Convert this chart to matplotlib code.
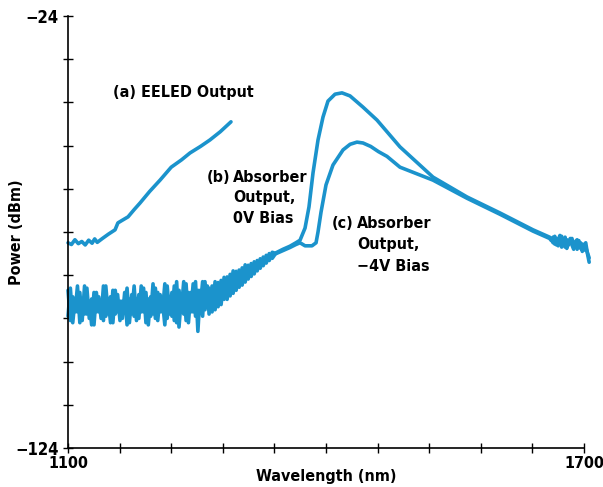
import numpy as np
import matplotlib
matplotlib.use("Agg")
import matplotlib.pyplot as plt
from matplotlib import font_manager as fm

# look for a condensed bold face, otherwise Roboto
cond = [f for f in fm.fontManager.ttflist
        if ('Condensed' in f.name or 'Narrow' in f.name
            or f.stretch in ('condensed', 'semi-condensed', 'extra-condensed'))]
cond_bold = [f for f in cond if f.weight in ('bold', 700, 'semibold', 600)]
if cond_bold:
    FP = fm.FontProperties(fname=cond_bold[0].fname)
    FS = 11.5
else:
    FP = fm.FontProperties(family=['Roboto', 'DejaVu Sans'], weight='bold')
    FS = 10.8

BLUE = '#1b93cc'

# (a) EELED output
eeled_wl = [1100, 1104, 1108, 1112, 1116, 1120, 1124, 1128, 1131, 1134, 1140, 1147, 1154.7,
            1158, 1163, 1169.8, 1177, 1183.7, 1195, 1207, 1220, 1232, 1241.9, 1254, 1265, 1277, 1289.5]
eeled_p = [-76.5, -76.9, -75.8, -76.7, -76.2, -77, -75.9, -76.6, -75.6, -76.4, -75.5, -74.5, -73.5,
           -71.9, -71.3, -70.5, -68.8, -67.3, -64.6, -62, -59, -57.3, -55.7, -54.2, -52.7, -50.8, -48.5]

# noisy floor of absorber outputs, 1100-1262 nm
floor_wl = np.linspace(1100, 1262, 60)
b_floor = [-87.5, -94.5, -89, -92.5, -86.5, -95, -90, -93, -87, -94,
           -89.5, -95.5, -88, -92.5, -90, -94.5, -86.5, -93, -89, -95,
           -87.5, -92.5, -90, -94, -88, -95.5, -89.5, -93, -86.5, -94.5,
           -88.5, -92.5, -87, -95, -89.5, -93.5, -86, -94, -88, -92.5,
           -90, -95.5, -86.5, -93, -88, -94.5, -85.5, -96, -89, -93,
           -86, -95, -88, -92.5, -85.5, -97, -87.5, -93.5, -85.5, -91.5]
c_floor = [-93.5, -87, -95, -89.5, -92.5, -88, -94.5, -86.5, -93, -90,
           -95.5, -88, -92.5, -89, -94, -86.5, -93.5, -89.5, -95, -87.5,
           -93, -88.5, -94.5, -90, -92.5, -87, -95, -88.5, -93.5, -89.5,
           -94, -86.5, -92.5, -88, -95.5, -89, -93, -87, -94.5, -88.5,
           -92.5, -86, -94, -89, -93.5, -86.5, -95, -87.5, -92, -85.5,
           -94.5, -88, -92.5, -86, -93.5, -87.5, -91.5, -85.5, -92, -86.5]

# rising, still noisy, 1264-1338 nm
rise_wl = [1264, 1267.5, 1271, 1274.5, 1278, 1281.5, 1285, 1288.5, 1292, 1295.5, 1299,
           1302.5, 1306, 1309.5, 1313, 1316.5, 1320, 1323.5, 1327, 1330.5, 1334, 1337.5,
           1342, 1350, 1358, 1365]
b_rise = [-87, -92.5, -85.5, -91.3, -85.2, -89.6, -84.4, -88.8, -83, -87.5, -82.8,
          -86.3, -81.6, -84.9, -81.3, -83.7, -80.6, -82.4, -79.8, -81.2, -79, -80.1,
          -78.8, -78, -77.3, -76.5]
c_rise = [-93, -86.5, -92, -85.7, -90.8, -84.5, -89.6, -83.8, -88.2, -83.1, -86.8,
          -82.3, -85.6, -81.7, -84.3, -80.9, -83, -80.2, -81.8, -79.4, -80.6, -78.7,
          -79, -78.3, -77.6, -76.9]

# (b) 0V bias peak
b_peak_wl = [1369.8, 1375.6, 1380.2, 1384.9, 1390.7, 1396.5, 1402.3, 1410.5, 1418.6, 1427.9,
             1443, 1459.3, 1486, 1524.4, 1564, 1602.3, 1640.7, 1660]
b_peak_p = [-75.9, -73.1, -68.2, -60.3, -52.7, -47.4, -43.7, -42.1, -41.8, -42.5,
            -45.1, -48.1, -54.3, -61.3, -65.9, -69.6, -73.5, -75.2]

# (c) -4V bias peak
c_peak_wl = [1369.8, 1375.6, 1383.7, 1388.4, 1390.7, 1394.2, 1400, 1408.1, 1419.8, 1428,
             1436, 1443, 1452, 1461, 1470.9, 1486, 1524.4, 1564, 1602.3, 1640.7, 1660]
c_peak_p = [-76.5, -77.2, -77.2, -76.5, -74, -69.4, -63.1, -58.5, -55, -53.7,
            -53.2, -53.4, -54.2, -55.4, -56.5, -59, -62, -66.2, -69.9, -73.8, -75.5]

# noisy tail 1662-1706 nm
tail_wl = np.linspace(1662, 1706, 23)
b_tail = [-75.5, -76.5, -75, -77, -75.8, -74.8, -77.5, -76, -75.2, -77.8, -76.3, -75.5,
          -77, -78, -76.2, -75.8, -77.5, -76.5, -78.5, -77, -76.5, -79, -81]
c_tail = [-76, -75.2, -76.8, -75.5, -77.2, -76, -75, -76.8, -77.5, -75.8, -77, -76.2,
          -75.5, -77.5, -76.8, -78, -76, -77.8, -76.8, -78.2, -77.5, -78.8, -80]

fig = plt.figure(figsize=(6.03, 4.87), dpi=100)
ax = fig.add_axes([0.1128, 0.0801, 0.8557, 0.8871])

b_wl = list(floor_wl) + rise_wl + b_peak_wl + list(tail_wl)
b_p = b_floor + b_rise + b_peak_p + b_tail
c_wl = list(floor_wl) + rise_wl + c_peak_wl + list(tail_wl)
c_p = c_floor + c_rise + c_peak_p + c_tail

for xs, ys in [(c_wl, c_p), (b_wl, b_p), (eeled_wl, eeled_p)]:
    ax.plot(xs, ys, color=BLUE, lw=2.6, clip_on=False,
            solid_joinstyle='round', solid_capstyle='round')

ax.set_xlim(1100, 1700)
ax.set_ylim(-124, -24)
for s in ['top', 'right']:
    ax.spines[s].set_visible(False)
for s in ['left', 'bottom']:
    ax.spines[s].set_linewidth(1.2)

xt = np.arange(1100, 1701, 60)
yt = np.arange(-124, -23, 10)
ax.set_xticks(xt)
ax.set_xticklabels(['1100'] + [''] * 9 + ['1700'], fontproperties=FP, fontsize=FS)
ax.set_yticks(yt)
ax.set_yticklabels(['\u2212124'] + [''] * 9 + ['\u221224'], fontproperties=FP, fontsize=FS + 0.5)
ax.tick_params(direction='inout', length=7.5, width=1)
ax.tick_params(axis='y', pad=3)
ax.tick_params(axis='x', pad=2)

ax.set_xlabel('Wavelength (nm)', fontproperties=FP, fontsize=FS)
ax.set_ylabel('Power (dBm)', fontproperties=FP, fontsize=FS)
ax.xaxis.set_label_coords(0.5, -0.065)
ax.yaxis.set_label_coords(-0.099, 0.5)
ax.xaxis.label.set_va('center')
ax.yaxis.label.set_va('center')

def label(x, y, s, ha='left'):
    ax.text(x, y, s, fontproperties=FP, fontsize=FS, va='center', ha=ha)

label(1152, -41.6, '(a) EELED Output')
label(1261.6, -61.3, '(b)')
label(1291.9, -61.3, 'Absorber')
label(1291.9, -66.1, 'Output,')
label(1291.9, -70.8, '0V Bias')
label(1407, -72.1, '(c)')
label(1436, -72.1, 'Absorber')
label(1436, -77, 'Output,')
label(1436, -81.9, '\u22124V Bias')

fig.savefig('out.png', dpi=100)
